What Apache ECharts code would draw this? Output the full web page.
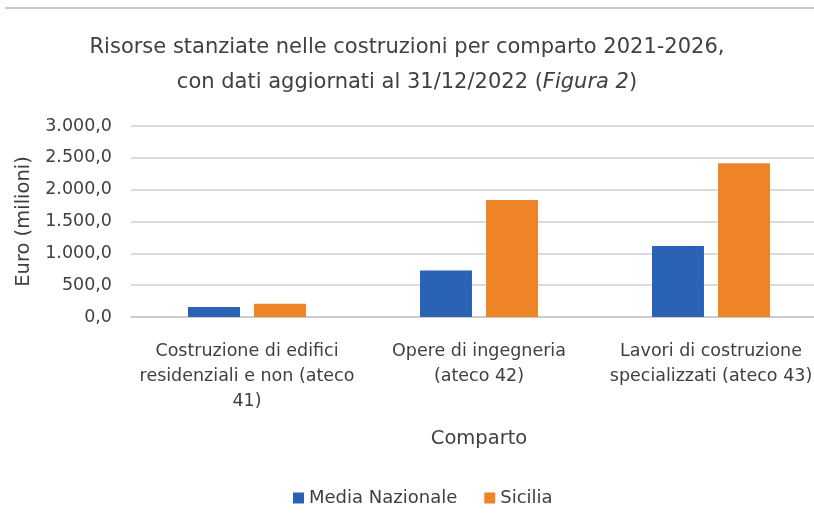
<!DOCTYPE html>
<html><head><meta charset="utf-8">
<script src="https://cdn.jsdelivr.net/npm/echarts@6/dist/echarts.min.js"></script>
<style>html,body{margin:0;padding:0;background:#fff;}#c{width:814px;height:527px;}</style>
</head><body><div id="c"></div>
<script>
const categories = ["Costruzione di edifici\nresidenziali e non (ateco\n41)", "Opere di ingegneria\n(ateco 42)", "Lavori di costruzione\nspecializzati (ateco 43)"];
const mediaNazionale = [157, 730, 1117];
const sicilia = [208, 1838, 2414];
const yTicks = [0, 500, 1000, 1500, 2000, 2500, 3000];
const FONT = '"DejaVu Sans", sans-serif';
const chart = echarts.init(document.getElementById('c'));
function fmt(v){ const s = Math.round(v).toString().replace(/\B(?=(\d{3})+(?!\d))/g, '.'); return s + ',0'; }
chart.setOption({
  animation: false,
  textStyle: { fontFamily: FONT },
  title: {
    text: '{n|Risorse stanziate nelle costruzioni per comparto 2021-2026,}\n{n|con dati aggiornati al 31/12/2022 (}{i|Figura 2}{n|)}',
    left: 'center', top: 25,
    textStyle: {
      fontWeight: 'normal',
      rich: {
        n: { fontFamily: FONT, fontSize: 21, fontWeight: 'normal', color: '#404040', lineHeight: 35 },
        i: { fontFamily: FONT, fontSize: 21, fontWeight: 'normal', color: '#404040', fontStyle: 'italic', lineHeight: 35 }
      }
    }
  },
  graphic: [{ type: 'line', shape: { x1: 5, y1: 8, x2: 814, y2: 8 }, style: { stroke: '#c8c8c8', lineWidth: 2 } }],
  legend: {
    bottom: 15, left: 288, itemWidth: 11, itemHeight: 11, itemGap: 27,
    icon: 'rect',
    textStyle: { fontFamily: FONT, fontSize: 18, color: '#404040' },
    data: ['Media Nazionale', 'Sicilia']
  },
  grid: { left: 131, width: 696, top: 126, bottom: 527 - 317, containLabel: false, outerBoundsMode: 'none' },
  xAxis: {
    type: 'category', data: categories,
    name: 'Comparto', nameLocation: 'middle', nameGap: 112,
    nameTextStyle: { fontFamily: FONT, fontSize: 19.5, color: '#404040' },
    axisLine: { lineStyle: { color: '#c8c8c8', width: 1.5 } },
    axisTick: { show: false },
    axisLabel: { fontFamily: FONT, fontSize: 17.5, color: '#404040', lineHeight: 25, margin: 22, interval: 0 }
  },
  yAxis: {
    type: 'value', min: 0, max: 3000, interval: 500,
    name: 'Euro (milioni)', nameLocation: 'middle', nameGap: 97,
    nameTextStyle: { fontFamily: FONT, fontSize: 19.5, color: '#404040' },
    axisLine: { show: false }, axisTick: { show: false },
    splitLine: { lineStyle: { color: '#cfcfcf', width: 1.5 } },
    axisLabel: { fontFamily: FONT, fontSize: 17.5, color: '#404040', margin: 19, formatter: v => yTicks.includes(v) ? fmt(v) : '' }
  },
  series: [
    { name: 'Media Nazionale', type: 'bar', data: mediaNazionale, barWidth: 52, barGap: '27%', itemStyle: { color: '#2a62b6' } },
    { name: 'Sicilia', type: 'bar', data: sicilia, barWidth: 52, itemStyle: { color: '#ee8427' } }
  ]
});
</script></body></html>
